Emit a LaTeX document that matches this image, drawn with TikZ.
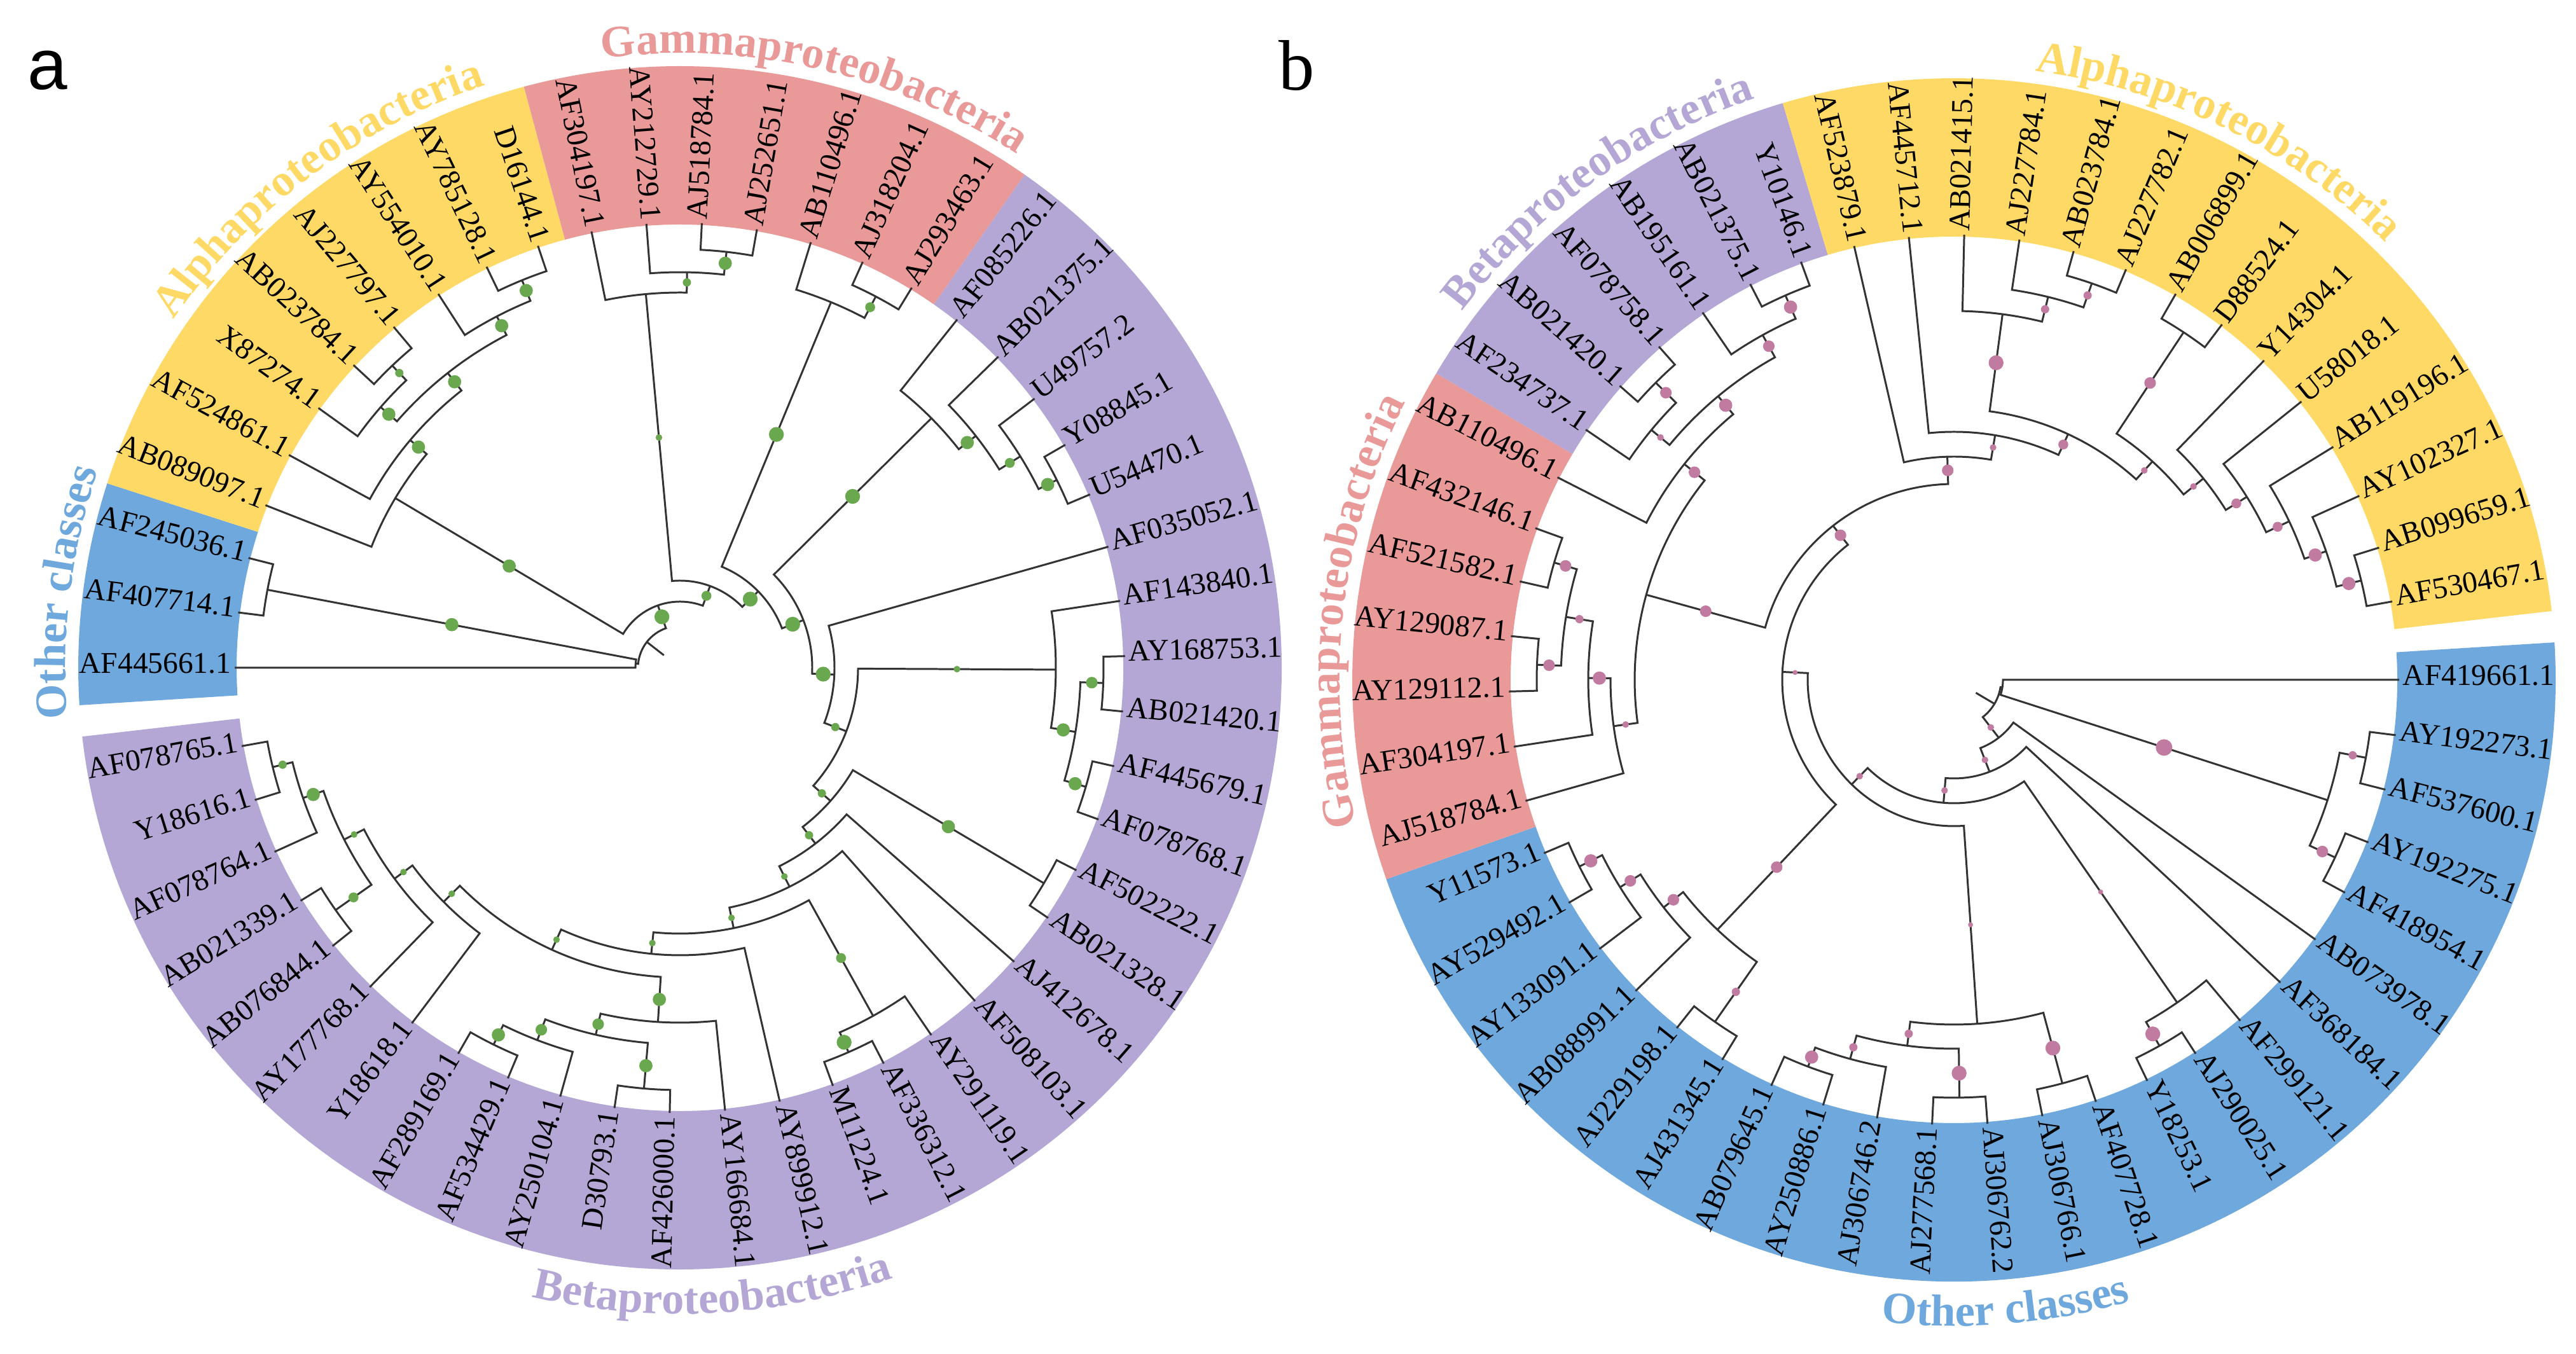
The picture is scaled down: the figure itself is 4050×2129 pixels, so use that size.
\documentclass[tikz,border=0pt]{standalone}
\usepackage{fontspec}
\setmainfont{Liberation Serif}
\setsansfont{Liberation Sans}
\usetikzlibrary{decorations.text}

\definecolor{alphacol}{RGB}{255,217,102}
\definecolor{gammacol}{RGB}{234,153,153}
\definecolor{betacol}{RGB}{180,167,214}
\definecolor{othercol}{RGB}{111,168,220}
\definecolor{greendot}{RGB}{106,168,79}
\definecolor{pinkdot}{RGB}{194,123,160}
\definecolor{treeline}{RGB}{51,51,51}

\newcommand{\cladefont}{\fontsize{20}{24}\selectfont\bfseries}

% leaf: name, index on the ring
\newcommand{\setleaf}[2]{%
  \expandafter\xdef\csname ix-#1\endcsname{#2}%
  \expandafter\xdef\csname rr-#1\endcsname{700}%
  \expandafter\xdef\csname dd-#1\endcsname{0}}

% clade: name, radius, dot on its own branch, child, child
\newcommand{\clade}[5]{%
  \edef\cIa{\csname ix-#4\endcsname}\edef\cIb{\csname ix-#5\endcsname}%
  \edef\cRa{\csname rr-#4\endcsname}\edef\cRb{\csname rr-#5\endcsname}%
  \edef\cDa{\csname dd-#4\endcsname}\edef\cDb{\csname dd-#5\endcsname}%
  \pgfmathsetmacro\cAa{\thz-\stp*\cIa}%
  \pgfmathsetmacro\cAb{\thz-\stp*\cIb}%
  \draw[branch] (\cAa:\cRa) -- (\cAa:#2) arc[start angle=\cAa, end angle=\cAb, radius=#2] -- (\cAb:\cRb);
  \ifdim\cDa pt>0pt \fill[boot] (\cAa:{(#2+\cRa)/2}) circle[radius={1.3*\cDa}];\fi
  \ifdim\cDb pt>0pt \fill[boot] (\cAb:{(#2+\cRb)/2}) circle[radius={1.3*\cDb}];\fi
  \pgfmathsetmacro\cIm{(\cIa+\cIb)/2}%
  \expandafter\xdef\csname ix-#1\endcsname{\cIm}%
  \expandafter\xdef\csname rr-#1\endcsname{#2}%
  \expandafter\xdef\csname dd-#1\endcsname{#3}}

% coloured sector of the ring: colour, first index, last index
\newcommand{\band}[3]{%
  \pgfmathsetmacro\bA{\thz-\stp*(#2)}%
  \pgfmathsetmacro\bB{\thz-\stp*(#3)}%
  \fill[#1] (\bA:697) arc[start angle=\bA, end angle=\bB, radius=697] -- (\bB:946) arc[start angle=\bB, end angle=\bA, radius=946] -- cycle;}

% class names round the ring
\newcommand{\titleout}[3]{%
  \path[decorate, decoration={text along path, text align=center, text={|\cladefont\color{#1}|#3}}]
    ({#2+40}:966) arc[start angle={#2+40}, end angle={#2-40}, radius=966];}
\newcommand{\titlein}[3]{%
  \path[decorate, decoration={text along path, text align=center, text={|\cladefont\color{#1}|#3}}]
    ({#2-40}:1016) arc[start angle={#2-40}, end angle={#2+40}, radius=1016];}

% labels at the leaves
\newcommand{\leaflabels}[2]{%
  \foreach \lab [count=\k from 0] in {#2}{%
    \setleaf{#1\k}{\k}%
    \pgfmathsetmacro\lA{mod(\thz-\stp*\k+720,360)}%
    \pgfmathtruncatemacro\lL{and(\lA>90,\lA<270)}%
    \ifnum\lL=1
      \node[leaflab, anchor=mid east, rotate=\lA+180] (t#1\k) at (\lA:705) {\lab};
    \else
      \node[leaflab, anchor=mid west, rotate=\lA] (t#1\k) at (\lA:705) {\lab};
    \fi}}

\begin{document}
\begin{tikzpicture}[x=0.1mm, y=0.1mm]

  \tikzstyle{branch}=[draw=treeline, line width=0.85pt]
  \tikzstyle{leaflab}=[font=\fontsize{13.5}{16}\selectfont, inner sep=0pt]

  \useasboundingbox (0,0) rectangle (4050,2129);
  \fill[white] (0,0) rectangle (4050,2129);

  \node[font=\sffamily\fontsize{32}{38}\selectfont] (pa) at (75,2018) {a};
  \node[font=\fontsize{32}{38}\selectfont] (pb) at (2039,2026) {b};

  % ---- tree a
  \begin{scope}[shift={(1069,1079)}]
    \def\thz{180}\def\stp{7.14}
    \tikzstyle{boot}=[fill=greendot]

    \band{othercol}{-0.5}{2.5}
    \band{alphacol}{2.5}{10.5}
    \band{gammacol}{10.5}{17.5}
    \band{betacol}{17.5}{49.5}

    \leaflabels{a}{AF445661.1,AF407714.1,AF245036.1,AB089097.1,AF524861.1,X87274.1,AB023784.1,AJ227797.1,AY554010.1,AY785128.1,D16144.1,AF304197.1,AY212729.1,AJ518784.1,AJ252651.1,AB110496.1,AJ318204.1,AJ293463.1,AF085226.1,AB021375.1,U49757.2,Y08845.1,U54470.1,AF035052.1,AF143840.1,AY168753.1,AB021420.1,AF445679.1,AF078768.1,AF502222.1,AB021328.1,AJ412678.1,AF508103.1,AY291119.1,AF336312.1,M11224.1,AY899912.1,AY166684.1,AF426000.1,D30793.1,AY250104.1,AF534429.1,AF289169.1,Y18618.1,AY177768.1,AB076844.1,AB021339.1,AF078764.1,Y18616.1,AF078765.1}

    \clade{oc1}{660}{8}{a1}{a2}
    \clade{n1}{70}{0}{a0}{oc1}

    \clade{y1}{658}{8}{a10}{a9}
    \clade{y2}{623}{8}{y1}{a8}
    \clade{y3}{656}{5}{a7}{a6}
    \clade{y4}{624}{8}{y3}{a5}
    \clade{y5}{590}{8}{y2}{y4}
    \clade{y6}{555}{8}{y5}{a4}
    \clade{y7}{521}{8}{y6}{a3}

    \clade{g3}{658}{8}{a13}{a14}
    \clade{g2}{622}{5}{a12}{g3}
    \clade{g1}{590}{4}{a11}{g2}
    \clade{g5}{660}{6}{a16}{a17}
    \clade{g4}{622}{9}{a15}{g5}

    \clade{p1}{662}{8}{a21}{a22}
    \clade{p2}{630}{6}{a20}{p1}
    \clade{p3}{591}{8}{a19}{p2}
    \clade{p4}{557}{9}{a18}{p3}

    \clade{q1}{666}{7}{a25}{a26}
    \clade{q2}{665}{8}{a27}{a28}
    \clade{q3}{630}{8}{q1}{q2}
    \clade{q4}{591}{4}{a24}{q3}
    \clade{q5}{665}{8}{a29}{a30}
    \clade{q7}{660}{9}{a34}{a35}
    \clade{q6}{626}{6}{a33}{q7}

    \clade{x4}{661}{8}{a42}{a41}
    \clade{x3}{627}{7}{a40}{x4}
    \clade{q8}{664}{8}{a38}{a39}
    \clade{x2}{592}{7}{x3}{q8}
    \clade{x1}{558}{8}{x2}{a37}

    \clade{z5}{659}{5}{a49}{a48}
    \clade{z4}{627}{8}{z5}{a47}
    \clade{z6}{662}{6}{a46}{a45}
    \clade{z3}{593}{4}{z4}{z6}
    \clade{z2}{558}{4}{a44}{z3}
    \clade{z1}{523}{4}{a43}{z2}

    \clade{n14}{487}{4}{z1}{x1}
    \clade{n13}{452}{4}{a36}{n14}
    \clade{n12}{418}{4}{q6}{n13}
    \clade{n11}{385}{4}{a32}{n12}
    \clade{n10}{349}{5}{a31}{n11}
    \clade{n9}{316}{5}{q5}{n10}
    \clade{n8}{280}{5}{q4}{n9}
    \clade{n7}{243}{9}{a23}{n8}
    \clade{n6}{208}{9}{p4}{n7}
    \clade{n5}{172}{9}{g4}{n6}
    \clade{n4}{137}{6}{g1}{n5}
    \clade{n3}{104}{9}{y7}{n4}
    \clade{root}{66}{0}{n1}{n3}
    \edef\rI{\csname ix-root\endcsname}
    \pgfmathsetmacro\rA{\thz-\stp*\rI}
    \draw[branch] (\rA:66) -- (\rA:32);

    \titleout{othercol}{173}{Other classes}
    \titleout{alphacol}{127}{Alphaproteobacteria}
    \titleout{gammacol}{77}{Gammaproteobacteria}
    \titlein{betacol}{273}{Betaproteobacteria}
  \end{scope}

  % ---- tree b
  \begin{scope}[shift={(3072,1060)}]
    \def\thz{0}\def\stp{7.14}
    \tikzstyle{boot}=[fill=pinkdot]

    \band{othercol}{-0.5}{22.5}
    \band{gammacol}{22.5}{29.5}
    \band{betacol}{29.5}{35.5}
    \band{alphacol}{35.5}{49.5}

    \leaflabels{b}{AF419661.1,AY192273.1,AF537600.1,AY192275.1,AF418954.1,AB073978.1,AF368184.1,AF299121.1,AJ290025.1,Y18253.1,AF407728.1,AJ306766.1,AJ306762.2,AJ277568.1,AJ306746.2,AY250886.1,AB079645.1,AJ431345.1,AJ229198.1,AB088991.1,AY133091.1,AY529492.1,Y11573.1,AJ518784.1,AF304197.1,AY129112.1,AY129087.1,AF521582.1,AF432146.1,AB110496.1,AF234737.1,AB021420.1,AF078758.1,AB195161.1,AB021375.1,Y10146.1,AF523879.1,AF445712.1,AB021415.1,AJ227784.1,AB023784.1,AJ227782.1,AB006899.1,D88524.1,Y14304.1,U58018.1,AB119196.1,AY102327.1,AB099659.1,AF530467.1}

    \clade{bo1}{659}{5}{b1}{b2}
    \clade{bo2}{661}{7}{b3}{b4}
    \clade{bo3}{617}{10}{bo1}{bo2}
    \clade{bm1}{77}{0}{b0}{bo3}

    \clade{bc2}{660}{9}{b8}{b9}
    \clade{bc1}{617}{3}{b7}{bc2}

    \clade{bb2}{657}{9}{b10}{b11}
    \clade{bb4}{657}{9}{b12}{b13}
    \clade{bb6}{650}{8}{b15}{b16}
    \clade{bb5}{618}{5}{bb6}{b14}
    \clade{bb3}{580}{5}{bb5}{bb4}
    \clade{bb1}{542}{3}{bb3}{bb2}

    \clade{bw1}{658}{8}{b22}{b21}
    \clade{bw2}{618}{7}{bw1}{b20}
    \clade{bw3}{580}{7}{bw2}{b19}
    \clade{bw4}{656}{5}{b18}{b17}
    \clade{bw5}{541}{7}{bw3}{bw4}

    \clade{bg1}{655}{7}{b28}{b27}
    \clade{bg2}{656}{7}{b26}{b25}
    \clade{bg3}{618}{5}{bg1}{bg2}
    \clade{bg4}{575}{8}{bg3}{b24}
    \clade{bg5}{540}{4}{bg4}{b23}

    \clade{bh1}{660}{8}{b35}{b34}
    \clade{bh2}{620}{7}{bh1}{b33}
    \clade{bh3}{662}{7}{b32}{b31}
    \clade{bh4}{617}{4}{bh3}{b30}
    \clade{bh5}{580}{8}{bh2}{bh4}
    \clade{bh6}{543}{7}{bh5}{b29}
    \clade{bq1}{502}{7}{bh6}{bg5}

    \clade{by1}{660}{5}{b40}{b41}
    \clade{by2}{620}{5}{b39}{by1}
    \clade{by3}{580}{9}{b38}{by2}
    \clade{byr8}{659}{8}{b48}{b49}
    \clade{byr7}{619}{8}{b47}{byr8}
    \clade{byr6}{583}{6}{b46}{byr7}
    \clade{byr5}{543}{6}{b45}{byr6}
    \clade{byr4}{504}{4}{b44}{byr5}
    \clade{byr1}{655}{7}{b42}{b43}
    \clade{byr3}{464}{4}{byr1}{byr4}
    \clade{by5}{426}{6}{by3}{byr3}
    \clade{by6}{390}{4}{b37}{by5}
    \clade{by7}{351}{7}{b36}{by6}

    \clade{bp2}{308}{7}{bq1}{by7}
    \clade{bp1}{270}{3}{bp2}{bw5}
    \clade{bm6}{230}{4}{bb1}{bp1}
    \clade{bm5}{194}{4}{bc1}{bm6}
    \clade{bm4}{155}{4}{b6}{bm5}
    \clade{bm3}{115}{4}{b5}{bm4}
    \clade{broot}{74}{0}{bm1}{bm3}
    \edef\rI{\csname ix-broot\endcsname}
    \pgfmathsetmacro\rA{\thz-\stp*\rI}
    \draw[branch] (\rA:74) -- (\rA:40);

    \titleout{gammacol}{173.4}{Gammaproteobacteria}
    \titleout{betacol}{126}{Betaproteobacteria}
    \titleout{alphacol}{63.9}{Alphaproteobacteria}
    \titlein{othercol}{274.7}{Other classes}
  \end{scope}

\end{tikzpicture}
\end{document}
